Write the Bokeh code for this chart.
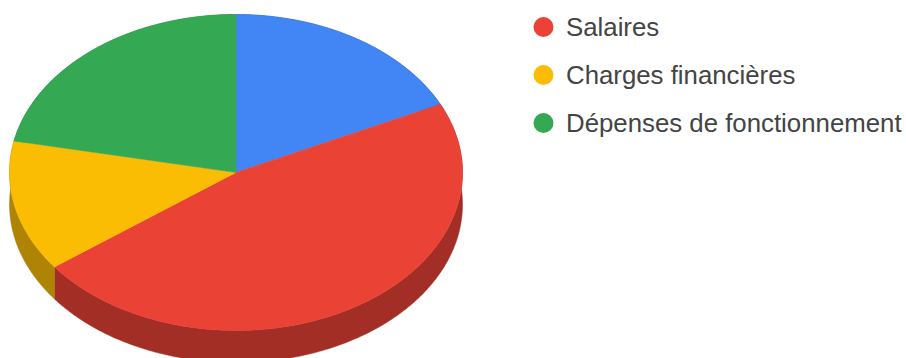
import numpy as np
from bokeh.plotting import figure
from bokeh.models import Range1d
from bokeh.core.properties import value
from bokeh.embed import file_html
from bokeh.resources import INLINE

slice_keys = ["Bleu", "Salaires", "Charges financières", "Dépenses de fonctionnement"]
slice_values = [17.9, 46.9, 13.4, 21.8]
slice_colors = ["#4285f4", "#ea4335", "#fbbc04", "#34a853"]
side_colors = ["#2e5dab", "#a32e25", "#af8303", "#247538"]
legend_labels = ["Salaires", "Charges financières", "Dépenses de fonctionnement"]
legend_colors = ["#ea4335", "#fbbc04", "#34a853"]

CX, CY, RX, RY, DEPTH = 235.5, 172, 226.5, 158, 32

p = figure(width=906, height=358, output_backend="svg", toolbar_location=None,
           x_range=Range1d(0, 906), y_range=Range1d(358, 0), min_border=0)
p.axis.visible = False
p.grid.visible = False
p.outline_line_color = None
p.background_fill_color = "white"
p.border_fill_color = "white"

fractions = np.array(slice_values) / sum(slice_values)
edges = np.concatenate([[0], np.cumsum(fractions)]) * 2 * np.pi

side_xs, side_ys, side_fc = [], [], []
top_xs, top_ys, top_fc = [], [], []
for i in range(len(slice_values)):
    t = np.linspace(edges[i], edges[i + 1], 200)
    ex = CX + RX * np.sin(t)
    ey = CY - RY * np.cos(t)
    top_xs.append([CX, *ex])
    top_ys.append([CY, *ey])
    top_fc.append(slice_colors[i])
    side_xs.append([*ex, *ex[::-1]])
    side_ys.append([*ey, *(ey[::-1] + DEPTH)])
    side_fc.append(side_colors[i])

p.patches(side_xs, side_ys, fill_color=side_fc, line_color=side_fc, line_width=0.5)
p.patches(top_xs, top_ys, fill_color=top_fc, line_color=top_fc, line_width=0.5)

ly = [26.5, 74.5, 122.5]
p.scatter([543] * 3, ly, size=20, marker="circle", fill_color=legend_colors, line_color=None)
p.text([565.5] * 3, ly, text=legend_labels, text_font=value("Liberation Sans"),
       text_font_size="25.8px", text_color="#444444", text_baseline="middle", text_align="left")

open("out.html", "w").write(file_html(p, INLINE))
